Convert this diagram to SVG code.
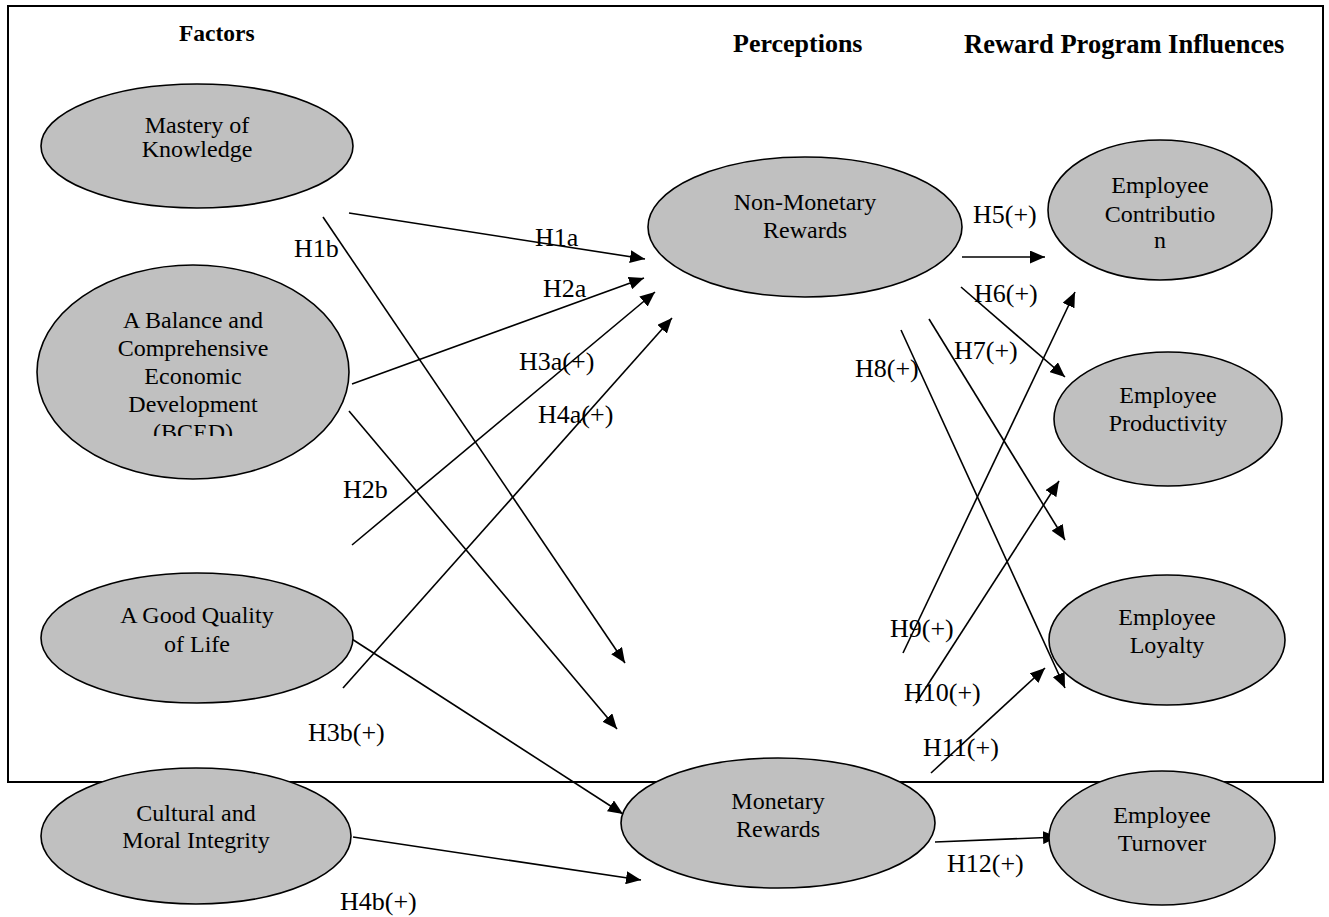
<svg xmlns="http://www.w3.org/2000/svg" width="1329" height="917" viewBox="0 0 1329 917">
<style>
.frame{fill:none;stroke:#000;stroke-width:2}
.node ellipse{fill:#c0c0c0;stroke:#000;stroke-width:1.6}
.nt{font-family:"Liberation Serif","Times New Roman",serif;font-size:24px;fill:#000;text-anchor:middle}
.hd{font-family:"Liberation Serif","Times New Roman",serif;font-weight:bold;fill:#000}
.lb{font-family:"Liberation Serif","Times New Roman",serif;font-size:26px;fill:#000}
.cn line{stroke:#000;stroke-width:1.6;marker-end:url(#ah)}
</style>
<defs>
<marker id="ah" markerUnits="userSpaceOnUse" markerWidth="16" markerHeight="13" refX="15" refY="6.5" orient="auto">
<path d="M0,0 L15,6.5 L0,13 z" fill="#000"/>
</marker>
<clipPath id="bcedclip"><rect x="0" y="0" width="400" height="436"/></clipPath>
</defs>
<rect width="1329" height="917" fill="#fff"/>
<rect class="frame" x="8" y="6" width="1315" height="776"/>
<text class="hd" x="179" y="41" font-size="23.5">Factors</text>
<text class="hd" x="733" y="52" font-size="26">Perceptions</text>
<text class="hd" x="964" y="53" font-size="26.5">Reward Program Influences</text>

<g id="connectors" class="cn">
<line x1="349" y1="213" x2="645" y2="259"/>
<line x1="323" y1="217" x2="625" y2="663"/>
<line x1="352" y1="384" x2="644" y2="278"/>
<line x1="349" y1="411" x2="617" y2="729"/>
<line x1="352" y1="545" x2="655" y2="292"/>
<line x1="343" y1="688" x2="672" y2="318"/>
<line x1="341" y1="632" x2="623" y2="814"/>
<line x1="353" y1="837" x2="641" y2="880"/>
<line x1="962" y1="257" x2="1045" y2="257"/>
<line x1="961" y1="287" x2="1065" y2="377"/>
<line x1="929" y1="319" x2="1065" y2="540"/>
<line x1="901" y1="330" x2="1065" y2="688"/>
<line x1="903" y1="653" x2="1075" y2="292"/>
<line x1="916" y1="703" x2="1059" y2="481"/>
<line x1="931" y1="773" x2="1045" y2="668"/>
<line x1="935" y1="842" x2="1058" y2="837"/>
</g>

<g id="labels">
<text class="lb" x="294" y="257">H1b</text>
<text class="lb" x="535" y="246">H1a</text>
<text class="lb" x="543" y="297">H2a</text>
<text class="lb" x="519" y="370">H3a(+)</text>
<text class="lb" x="538" y="423">H4a(+)</text>
<text class="lb" x="343" y="498">H2b</text>
<text class="lb" x="308" y="741">H3b(+)</text>
<text class="lb" x="340" y="910">H4b(+)</text>
<text class="lb" x="973" y="223">H5(+)</text>
<text class="lb" x="974" y="302">H6(+)</text>
<text class="lb" x="954" y="359">H7(+)</text>
<text class="lb" x="855" y="377">H8(+)</text>
<text class="lb" x="890" y="637">H9(+)</text>
<text class="lb" x="904" y="701">H10(+)</text>
<text class="lb" x="923" y="756">H11(+)</text>
<text class="lb" x="947" y="872">H12(+)</text>
</g>

<g id="mastery" class="node">
<ellipse cx="197" cy="146" rx="156" ry="62"/>
<text class="nt" x="197" y="133" font-size="21">Mastery of</text>
<text class="nt" x="197" y="157" font-size="21">Knowledge</text>
</g>
<g id="bced" class="node">
<ellipse cx="193" cy="372" rx="156" ry="107"/>
<g clip-path="url(#bcedclip)">
<text class="nt" x="193" y="328">A Balance and</text>
<text class="nt" x="193" y="356">Comprehensive</text>
<text class="nt" x="193" y="384">Economic</text>
<text class="nt" x="193" y="412">Development</text>
<text class="nt" x="193" y="440">(BCED)</text>
</g>
</g>
<g id="quality" class="node">
<ellipse cx="197" cy="638" rx="156" ry="65"/>
<text class="nt" x="197" y="623" font-size="23">A Good Quality</text>
<text class="nt" x="197" y="652" font-size="23">of Life</text>
</g>
<g id="cultural" class="node">
<ellipse cx="196" cy="836" rx="155" ry="68"/>
<text class="nt" x="196" y="821">Cultural and</text>
<text class="nt" x="196" y="848">Moral Integrity</text>
</g>
<g id="nonmonetary" class="node">
<ellipse cx="805" cy="227" rx="157" ry="70"/>
<text class="nt" x="805" y="210">Non-Monetary</text>
<text class="nt" x="805" y="238">Rewards</text>
</g>
<g id="monetary" class="node">
<ellipse cx="778" cy="823" rx="157" ry="65"/>
<text class="nt" x="778" y="809">Monetary</text>
<text class="nt" x="778" y="837">Rewards</text>
</g>
<g id="contribution" class="node">
<ellipse cx="1160" cy="210" rx="112" ry="70"/>
<text class="nt" x="1160" y="193">Employee</text>
<text class="nt" x="1160" y="222">Contributio</text>
<text class="nt" x="1160" y="248">n</text>
</g>
<g id="productivity" class="node">
<ellipse cx="1168" cy="419" rx="114" ry="67"/>
<text class="nt" x="1168" y="403">Employee</text>
<text class="nt" x="1168" y="431">Productivity</text>
</g>
<g id="loyalty" class="node">
<ellipse cx="1167" cy="640" rx="118" ry="65"/>
<text class="nt" x="1167" y="625">Employee</text>
<text class="nt" x="1167" y="653">Loyalty</text>
</g>
<g id="turnover" class="node">
<ellipse cx="1162" cy="838" rx="113" ry="67"/>
<text class="nt" x="1162" y="823">Employee</text>
<text class="nt" x="1162" y="851">Turnover</text>
</g>
</svg>
